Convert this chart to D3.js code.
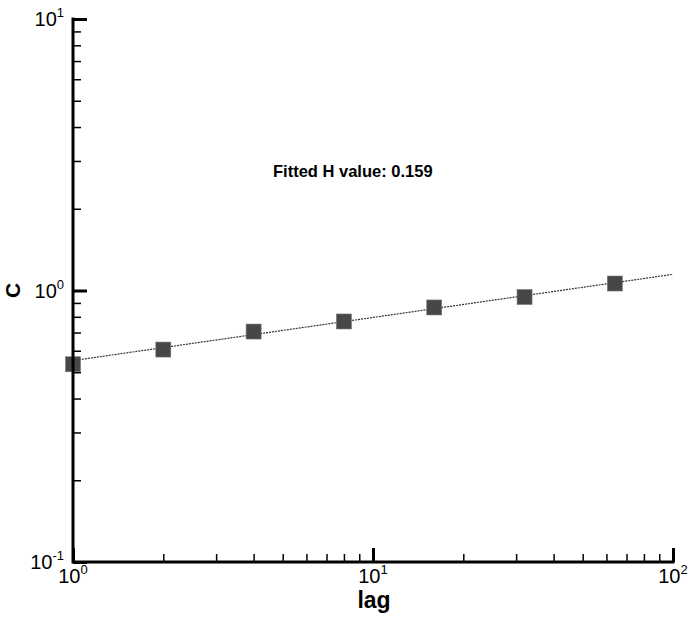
<!DOCTYPE html>
<html lang="en">
<head>
    <meta charset="UTF-8">
    <title>C vs lag</title>
    <style>
        body { margin: 0; background: #fff; }
        svg { display: block; font-family: "Liberation Sans", Arial, sans-serif; }
    </style>
</head>
<body>
    <script src="https://d3js.org/d3.v7.min.js"></script>
    <script>
        // data
        const lags = [1, 2, 4, 8, 16, 32, 64];
        const cValues = [0.535, 0.606, 0.706, 0.769, 0.866, 0.946, 1.061];
        // fitted line end points (slope 0.159 on log-log)
        const fitLag = [1, 100];
        const fitC = [0.552, 1.147];
        const fitLabel = 'Fitted H value: 0.159';
        const xMajor = [1, 10, 100];
        const yMajor = [0.1, 1, 10];

        const width = 692, height = 618;

        const svg = d3.select('body')
            .append('svg')
            .attr('width', width)
            .attr('height', height);

        const x = d3.scaleLog().domain([1, 100]).range([73, 673]);
        const y = d3.scaleLog().domain([0.1, 10]).range([562, 19]);

        const xMinor = x.ticks().filter(v => !xMajor.includes(v));
        const yMinor = y.ticks().filter(v => !yMajor.includes(v));

        // fitted line
        svg.append('line')
            .attr('x1', x(fitLag[0])).attr('y1', y(fitC[0]))
            .attr('x2', x(fitLag[1])).attr('y2', y(fitC[1]))
            .attr('stroke', '#333')
            .attr('stroke-width', 1.2)
            .attr('stroke-dasharray', '2,1');

        // markers
        const s = 15;
        svg.selectAll('rect.pt')
            .data(lags)
            .enter()
            .append('rect')
            .attr('class', 'pt')
            .attr('x', (d, i) => x(d) - s / 2)
            .attr('y', (d, i) => y(cValues[i]) - s / 2)
            .attr('width', s)
            .attr('height', s)
            .attr('fill', '#474747')
            .attr('stroke', '#777')
            .attr('stroke-width', 0.6);

        // bottom axis: minor and major ticks drawn inward
        const gx = svg.append('g').attr('transform', `translate(0,${y.range()[0]})`);
        gx.call(d3.axisBottom(x).tickValues(xMinor).tickSize(-8).tickSizeOuter(0).tickFormat(''))
            .call(g => g.selectAll('.tick line').attr('stroke', '#000').attr('stroke-width', 1.5));
        gx.select('.domain').remove();
        const gx2 = svg.append('g').attr('transform', `translate(0,${y.range()[0]})`);
        gx2.call(d3.axisBottom(x).tickValues(xMajor).tickSize(-14).tickSizeOuter(0).tickFormat(''))
            .call(g => g.selectAll('.tick line').attr('stroke', '#000').attr('stroke-width', 3));
        gx2.select('.domain').remove();

        // left axis
        const gy = svg.append('g').attr('transform', `translate(${x.range()[0]},0)`);
        gy.call(d3.axisLeft(y).tickValues(yMinor).tickSize(-8).tickSizeOuter(0).tickFormat(''))
            .call(g => g.selectAll('.tick line').attr('stroke', '#000').attr('stroke-width', 1.5));
        gy.select('.domain').remove();
        const gy2 = svg.append('g').attr('transform', `translate(${x.range()[0]},0)`);
        gy2.call(d3.axisLeft(y).tickValues(yMajor).tickSize(-14).tickSizeOuter(0).tickFormat(''))
            .call(g => g.selectAll('.tick line').attr('stroke', '#000').attr('stroke-width', 3));
        gy2.select('.domain').remove();

        // axis lines
        svg.append('path')
            .attr('d', `M${x.range()[0]},${y.range()[1]}V${y.range()[0]}H${x.range()[1]}`)
            .attr('fill', 'none')
            .attr('stroke', '#000')
            .attr('stroke-width', 3)
            .attr('stroke-linecap', 'square');

        // tick labels as 10^n
        function powLabel(sel) {
            sel.append('tspan').attr('font-size', 20).text('10');
            sel.append('tspan')
                .attr('font-size', 13)
                .attr('dy', -9)
                .text(d => Math.round(Math.log10(d)));
        }

        svg.selectAll('text.xl')
            .data(xMajor)
            .enter()
            .append('text')
            .attr('class', 'xl')
            .attr('x', d => x(d))
            .attr('y', 583)
            .attr('text-anchor', 'middle')
            .call(powLabel);

        svg.selectAll('text.yl')
            .data(yMajor)
            .enter()
            .append('text')
            .attr('class', 'yl')
            .attr('x', d => 64)
            .attr('y', d => y(d) + 7)
            .attr('text-anchor', 'end')
            .call(powLabel);

        // axis titles
        svg.append('text')
            .attr('x', 374)
            .attr('y', 608)
            .attr('text-anchor', 'middle')
            .attr('font-size', 23)
            .attr('font-weight', 'bold')
            .text('lag');

        svg.append('text')
            .attr('transform', `translate(20,${y(1)}) rotate(-90)`)
            .attr('text-anchor', 'middle')
            .attr('font-size', 21)
            .attr('font-weight', 'bold')
            .text('C');

        // annotation
        svg.append('text')
            .attr('x', 273)
            .attr('y', 177)
            .attr('font-size', 16.5)
            .attr('font-weight', 'bold')
            .text(fitLabel);
    </script>
</body>
</html>
